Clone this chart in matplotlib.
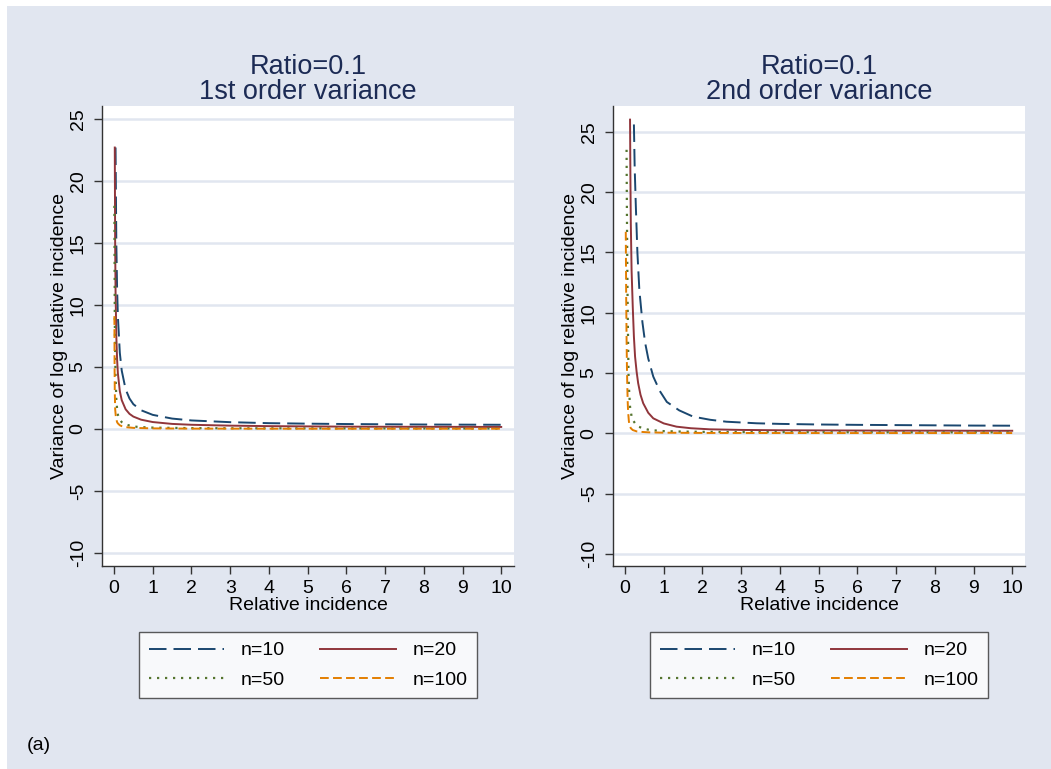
import matplotlib
matplotlib.use('Agg')
import matplotlib.pyplot as plt
from matplotlib.patches import Rectangle

plt.rcParams['font.family'] = ['Liberation Sans', 'DejaVu Sans']

# Panel (1st order variance)
x1_n10 = [0.04, 0.06, 0.08, 0.1, 0.15, 0.2, 0.3, 0.4, 0.5, 0.7, 1, 1.5, 2, 3, 4, 5, 6, 7, 8, 9, 10]
y1_n10 = [22.7, 15.0, 11.3, 9.1, 6.15, 4.7, 3.2, 2.46, 2.0, 1.51, 1.14, 0.84, 0.69, 0.55, 0.47, 0.43, 0.40, 0.38, 0.36, 0.35, 0.34]
x1_n20 = [0.02, 0.03, 0.04, 0.06, 0.08, 0.1, 0.15, 0.2, 0.3, 0.4, 0.5, 0.7, 1, 1.5, 2, 3, 4, 5, 6, 7, 8, 9, 10]
y1_n20 = [22.7, 14.8, 11.1, 7.45, 5.6, 4.5, 3.05, 2.32, 1.59, 1.22, 1.0, 0.75, 0.56, 0.41, 0.34, 0.27, 0.23, 0.21, 0.19, 0.18, 0.175, 0.17, 0.165]
x1_n50 = [0.01, 0.02, 0.03, 0.04, 0.06, 0.08, 0.1, 0.15, 0.2, 0.3, 0.5, 0.7, 1, 2, 3, 5, 7, 10]
y1_n50 = [18.0, 9.0, 6.0, 4.3, 2.4, 1.6, 1.15, 0.75, 0.55, 0.36, 0.2, 0.15, 0.11, 0.07, 0.06, 0.05, 0.045, 0.04]
x1_n100 = [0.01, 0.015, 0.02, 0.03, 0.05, 0.08, 0.1, 0.15, 0.2, 0.3, 0.5, 1, 2, 5, 10]
y1_n100 = [9.1, 5.0, 3.0, 1.6, 0.9, 0.55, 0.45, 0.3, 0.23, 0.15, 0.09, 0.05, 0.03, 0.02, 0.02]

# Panel (2nd order variance)
x2_n10 = [0.23, 0.25, 0.28, 0.32, 0.37, 0.45, 0.52, 0.6, 0.73, 0.9, 1.08, 1.4, 1.76, 2.2, 2.62, 3.4, 4, 5, 6, 7, 8, 9, 10]
y2_n10 = [25.6, 22.0, 18.8, 15.0, 11.9, 9.2, 7.5, 6.2, 4.7, 3.5, 2.6, 1.9, 1.38, 1.12, 0.96, 0.83, 0.78, 0.73, 0.70, 0.68, 0.66, 0.64, 0.63]
x2_n20 = [0.13, 0.14, 0.15, 0.17, 0.2, 0.23, 0.26, 0.3, 0.34, 0.4, 0.47, 0.6, 0.73, 1.0, 1.33, 1.7, 2.19, 3, 4, 5, 6, 7, 8, 9, 10]
y2_n20 = [26.0, 21.0, 17.4, 13.5, 10.5, 8.0, 6.35, 5.1, 4.15, 3.2, 2.49, 1.7, 1.24, 0.82, 0.55, 0.42, 0.33, 0.28, 0.25, 0.24, 0.23, 0.22, 0.22, 0.21, 0.21]
x2_n50 = [0.04, 0.05, 0.06, 0.07, 0.08, 0.09, 0.1, 0.13, 0.17, 0.2, 0.26, 0.35, 0.5, 0.65, 1, 1.5, 2, 3, 5, 7, 10]
y2_n50 = [23.5, 18.0, 13.5, 10.0, 7.5, 5.0, 3.9, 2.2, 1.4, 1.1, 0.83, 0.55, 0.37, 0.27, 0.18, 0.14, 0.12, 0.1, 0.09, 0.08, 0.08]
x2_n100 = [0.02, 0.03, 0.04, 0.05, 0.06, 0.07, 0.08, 0.1, 0.12, 0.15, 0.2, 0.3, 0.4, 0.6, 1, 2, 5, 10]
y2_n100 = [16.7, 11.5, 8.0, 5.5, 3.8, 2.6, 1.8, 1.0, 0.65, 0.42, 0.27, 0.16, 0.12, 0.08, 0.05, 0.03, 0.02, 0.02]

labels = ['n=10', 'n=20', 'n=50', 'n=100']
colors = ['#1A476F', '#90353B', '#55752F', '#E37E00']
dashes = [(9, 3.6), (), (1.0, 2.6), (4.5, 2.2)]
widths = [1.4, 1.4, 1.6, 1.4]
yticks = [-10, -5, 0, 5, 10, 15, 20, 25]
xticks = list(range(0, 11))

panels = [
    ("Ratio=0.1\n1st order variance",
     [(x1_n10, y1_n10), (x1_n20, y1_n20), (x1_n50, y1_n50), (x1_n100, y1_n100)],
     (-11.05, 26.05), 102),
    ("Ratio=0.1\n2nd order variance",
     [(x2_n10, y2_n10), (x2_n20, y2_n20), (x2_n50, y2_n50), (x2_n100, y2_n100)],
     (-11.0, 27.13), 613),
]

W, H = 1051, 769
bg = '#E1E6F0'
navy = '#1C2B55'

fig = plt.figure(figsize=(W / 100, H / 100), dpi=100, facecolor='white')
fig.patches.append(Rectangle((7 / W, 0), 1, 1 - 6 / H, transform=fig.transFigure,
                             facecolor=bg, edgecolor='none', zorder=-10))

for title, series, ylim, left_px in panels:
    ax = fig.add_axes([left_px / W, 1 - 566 / H, 412 / W, 460 / H])
    ax.set_facecolor('white')
    lines = []
    for (xs, ys), lab, c, d, w in zip(series, labels, colors, dashes, widths):
        ln, = ax.plot(xs, ys, color=c, lw=w, label=lab)
        if d:
            ln.set_dashes(d)
        lines.append(ln)
    ax.set_xlim(-0.31, 10.33)
    ax.set_ylim(*ylim)
    ax.set_yticks(yticks)
    ax.set_xticks(xticks)
    ax.set_yticklabels([str(t) for t in yticks], rotation=90, va='center')
    ax.grid(axis='y', color=bg, lw=1.8)
    ax.set_axisbelow(True)
    for s in ['top', 'right']:
        ax.spines[s].set_visible(False)
    for s in ['left', 'bottom']:
        ax.spines[s].set_color('#333333')
        ax.spines[s].set_linewidth(1.0)
    ax.tick_params(direction='out', length=6, width=1.0, color='#333333',
                   labelsize=14, labelcolor='black')
    ax.tick_params(axis='x', pad=4)
    ax.tick_params(axis='y', pad=5)
    ax.set_xlabel('Relative incidence', fontsize=14, labelpad=0)
    ax.set_ylabel('Variance of log relative incidence', fontsize=14, labelpad=1)
    ax.set_title(title, fontsize=19.5, color=navy, linespacing=0.95, pad=5)
    # row-wise legend order: n=10, n=20 / n=50, n=100
    order = [0, 2, 1, 3]
    leg = ax.legend([lines[i] for i in order], [labels[i] for i in order],
                    loc='upper center', bbox_to_anchor=(0.5, -0.1435), ncol=2,
                    fontsize=14, handlelength=3.9, columnspacing=1.8,
                    handletextpad=0.85, borderpad=0.5, labelspacing=0.6,
                    borderaxespad=0, frameon=True, fancybox=False,
                    edgecolor='#333333')
    leg.get_frame().set_linewidth(1.0)
    leg.get_frame().set_facecolor('white')

fig.text(27 / W, 1 - 745 / H, '(a)', fontsize=14, va='center', ha='left')

fig.savefig('out.png', dpi=100, facecolor=fig.get_facecolor())
